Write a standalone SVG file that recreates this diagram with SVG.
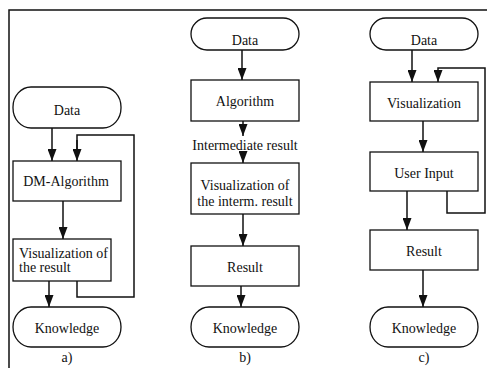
<svg xmlns="http://www.w3.org/2000/svg" width="487" height="368" viewBox="0 0 487 368">
<defs>
<marker id="ah" markerUnits="userSpaceOnUse" markerWidth="13" markerHeight="9" refX="12" refY="4.5" orient="auto" viewBox="0 0 13 9">
<path d="M0,0 L12,4.5 L0,9 Z" fill="#111"/>
</marker>
<style>
.box{fill:#fff;stroke:#111;stroke-width:1.3}
text{font-family:'Liberation Serif','Times New Roman',serif;font-size:14px;fill:#111}
.t{text-anchor:middle}
.c{fill:none;stroke:#111;stroke-width:1.5}
.cv{fill:none;stroke:#111;stroke-width:1.5;marker-end:url(#ah)}
</style>
</defs>
<rect width="487" height="368" fill="#fff"/>
<g id="frame"><path class="c" d="M9,368 V10 H487"/></g>

<g id="connectors">
<!-- a -->
<path class="cv" d="M52,128 V161"/>
<path class="c" d="M77,281 V297 H134 V135 H77 V150"/>
<path class="cv" d="M77,140 V161"/>
<path class="cv" d="M63,201 V239"/>
<path class="cv" d="M49,281 V307"/>
<!-- b -->
<path class="cv" d="M242,50 V80"/>
<path class="cv" d="M243,121 V136"/>
<path class="cv" d="M243,152 V163"/>
<path class="cv" d="M243,214 V246"/>
<path class="cv" d="M241,286 V307"/>
<!-- c -->
<path class="cv" d="M412,50 V82"/>
<path class="c" d="M447,191 V213 H485 V68 H438 V74"/>
<path class="cv" d="M438,70 V82"/>
<path class="cv" d="M423,121 V152"/>
<path class="cv" d="M407,191 V230"/>
<path class="cv" d="M423,270 V307"/>
</g>

<!-- panel a -->
<g id="a_data"><rect class="box" x="13" y="87" width="108" height="41" rx="18" ry="20"/><text class="t" x="67" y="115">Data</text></g>
<g id="a_dm"><rect class="box" x="13" y="161" width="108" height="40"/><text class="t" x="66" y="186">DM-Algorithm</text></g>
<g id="a_vis"><rect class="box" x="13" y="239" width="98" height="42"/><text x="19" y="258">Visualization of</text><text x="19" y="272">the result</text></g>
<g id="a_know"><rect class="box" x="13" y="307" width="108" height="40" rx="18" ry="20"/><text class="t" x="67" y="333">Knowledge</text></g>
<text class="t" x="67" y="362">a)</text>

<!-- panel b -->
<g id="b_data"><rect class="box" x="191" y="18" width="108" height="32" rx="16" ry="16"/><text class="t" x="245" y="45">Data</text></g>
<g id="b_alg"><rect class="box" x="191" y="80" width="108" height="41"/><text class="t" x="245" y="106">Algorithm</text></g>
<g id="b_inter"><text class="t" x="245" y="150">Intermediate result</text></g>
<g id="b_vis"><rect class="box" x="191" y="163" width="108" height="51"/><text class="t" x="245" y="190">Visualization of</text><text class="t" x="245" y="206">the interm. result</text></g>
<g id="b_res"><rect class="box" x="191" y="246" width="108" height="40"/><text class="t" x="245" y="272">Result</text></g>
<g id="b_know"><rect class="box" x="191" y="307" width="108" height="40" rx="18" ry="20"/><text class="t" x="245" y="333">Knowledge</text></g>
<text class="t" x="245" y="362">b)</text>

<!-- panel c -->
<g id="c_data"><rect class="box" x="370" y="18" width="108" height="32" rx="16" ry="16"/><text class="t" x="424" y="45">Data</text></g>
<g id="c_vis"><rect class="box" x="370" y="82" width="108" height="39"/><text class="t" x="424" y="108">Visualization</text></g>
<g id="c_user"><rect class="box" x="370" y="152" width="108" height="39"/><text class="t" x="424" y="178">User Input</text></g>
<g id="c_res"><rect class="box" x="370" y="230" width="108" height="40"/><text class="t" x="424" y="256">Result</text></g>
<g id="c_know"><rect class="box" x="370" y="307" width="108" height="40" rx="18" ry="20"/><text class="t" x="424" y="333">Knowledge</text></g>
<text class="t" x="424" y="362">c)</text>
</svg>
